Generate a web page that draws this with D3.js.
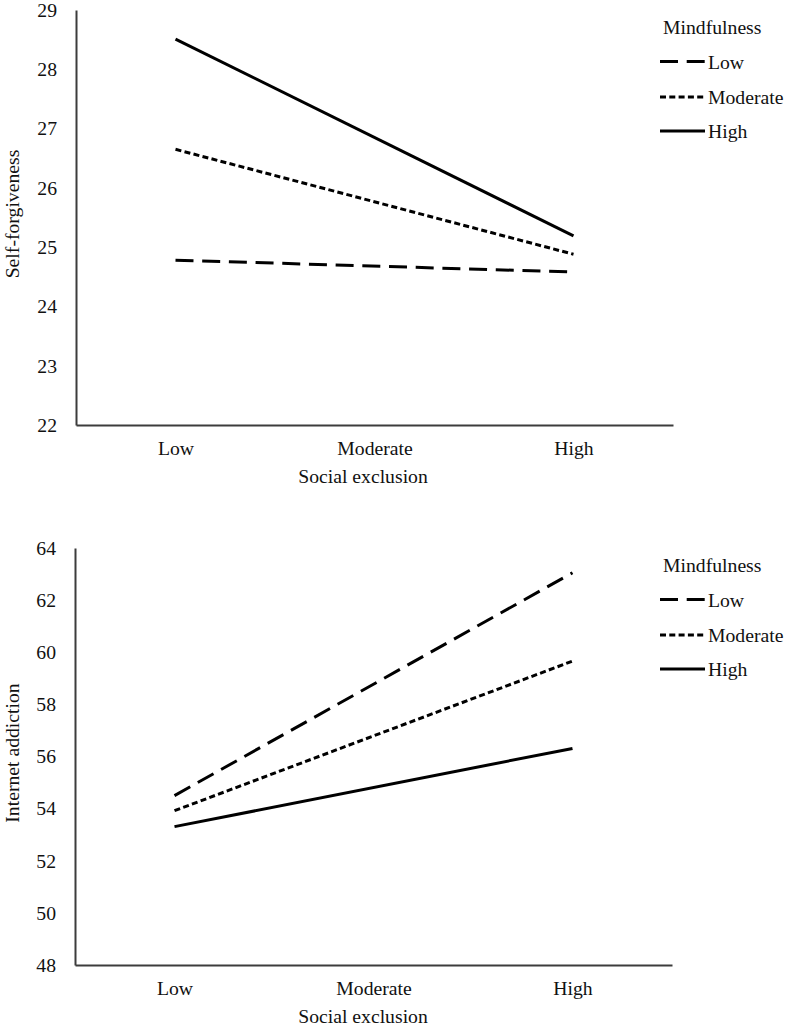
<!DOCTYPE html>
<html>
<head>
<meta charset="utf-8">
<script src="https://cdn.jsdelivr.net/npm/d3@7"></script>
<style>
  html, body { margin: 0; padding: 0; background: #fff; }
  svg { display: block; }
  text { font-family: "Liberation Serif", "Times New Roman", serif; fill: #111; }
</style>
</head>
<body>
<svg id="chart" width="787" height="1026"></svg>
<script>
// ---- Data ----
const categories = ["Low", "Moderate", "High"];           // Social exclusion (x axis)
const plottedPoints = ["Low", "High"];                     // points where lines are plotted
const mindfulnessLevels = ["Low", "Moderate", "High"];     // legend / series
const dashStyles = ["18,8.7", "6,3.3", null];

// Panel 1: Self-forgiveness
const sfLow = [24.78, 24.58];
const sfModerate = [26.65, 24.88];
const sfHigh = [28.51, 25.19];
const sfTicks = [22, 23, 24, 25, 26, 27, 28, 29];

// Panel 2: Internet addiction
const iaLow = [54.5, 63.05];
const iaModerate = [53.92, 59.66];
const iaHigh = [53.31, 56.31];
const iaTicks = [48, 50, 52, 54, 56, 58, 60, 62, 64];

const svg = d3.select("#chart");
const FS = 19.7;
const axisColor = "#3c3c3c";

function drawPanel(opts) {
  const { top, bottom, left, right, domain, ticks, series, yLabel, yLabelY } = opts;
  const g = svg.append("g");

  const x = d3.scalePoint().domain(categories).range([left, right]).padding(0.5);
  const y = d3.scaleLinear().domain(domain).range([bottom, top]);

  // Y axis
  const yAxis = g.append("g")
    .attr("transform", `translate(${left},0)`)
    .call(d3.axisLeft(y).tickValues(ticks).tickSize(0).tickPadding(19).tickFormat(d3.format("d")));
  yAxis.select(".domain").attr("stroke", axisColor).attr("stroke-width", 2);
  yAxis.selectAll("text").style("font-size", FS + "px").style("font-family", "'Liberation Serif', serif").attr("fill", "#111");

  // X axis
  const xAxis = g.append("g")
    .attr("transform", `translate(0,${bottom})`)
    .call(d3.axisBottom(x).tickSize(0).tickPadding(16));
  xAxis.select(".domain").attr("stroke", axisColor).attr("stroke-width", 2);
  xAxis.selectAll("text").style("font-size", FS + "px").style("font-family", "'Liberation Serif', serif").attr("fill", "#111");

  // Axis titles
  g.append("text")
    .attr("x", 363).attr("y", bottom + 58)
    .attr("text-anchor", "middle")
    .style("font-size", FS + "px")
    .text("Social exclusion");

  g.append("text")
    .attr("transform", `translate(18.5,${yLabelY}) rotate(-90)`)
    .attr("text-anchor", "middle")
    .style("font-size", FS + "px")
    .text(yLabel);

  // Lines
  const line = d3.line().x(d => x(d.cat)).y(d => y(d.v));
  series.forEach((vals, i) => {
    const pts = plottedPoints.map((c, j) => ({ cat: c, v: vals[j] }));
    const p = g.append("path")
      .datum(pts)
      .attr("d", line)
      .attr("fill", "none")
      .attr("stroke", "#000")
      .attr("stroke-width", 3);
    if (dashStyles[i]) p.attr("stroke-dasharray", dashStyles[i]);
  });

  // Legend
  const lg = g.append("g");
  lg.append("text")
    .attr("x", 663).attr("y", top + 23.5)
    .style("font-size", FS + "px")
    .text("Mindfulness");
  const rowOffsets = [58.5, 94, 128];
  mindfulnessLevels.forEach((lvl, i) => {
    const ly = top + rowOffsets[i];
    const ln = lg.append("line")
      .attr("x1", 660).attr("x2", 705)
      .attr("y1", ly - 7).attr("y2", ly - 7)
      .attr("stroke", "#000").attr("stroke-width", 3);
    if (dashStyles[i]) ln.attr("stroke-dasharray", dashStyles[i]);
    lg.append("text")
      .attr("x", 708).attr("y", ly)
      .style("font-size", FS + "px")
      .text(lvl);
  });
}

drawPanel({
  top: 10, bottom: 425, left: 76, right: 673,
  domain: [22, 29], ticks: sfTicks,
  series: [sfLow, sfModerate, sfHigh],
  yLabel: "Self-forgiveness", yLabelY: 214
});

drawPanel({
  top: 548, bottom: 965, left: 75, right: 672,
  domain: [48, 64], ticks: iaTicks,
  series: [iaLow, iaModerate, iaHigh],
  yLabel: "Internet addiction", yLabelY: 753
});
</script>
</body>
</html>
